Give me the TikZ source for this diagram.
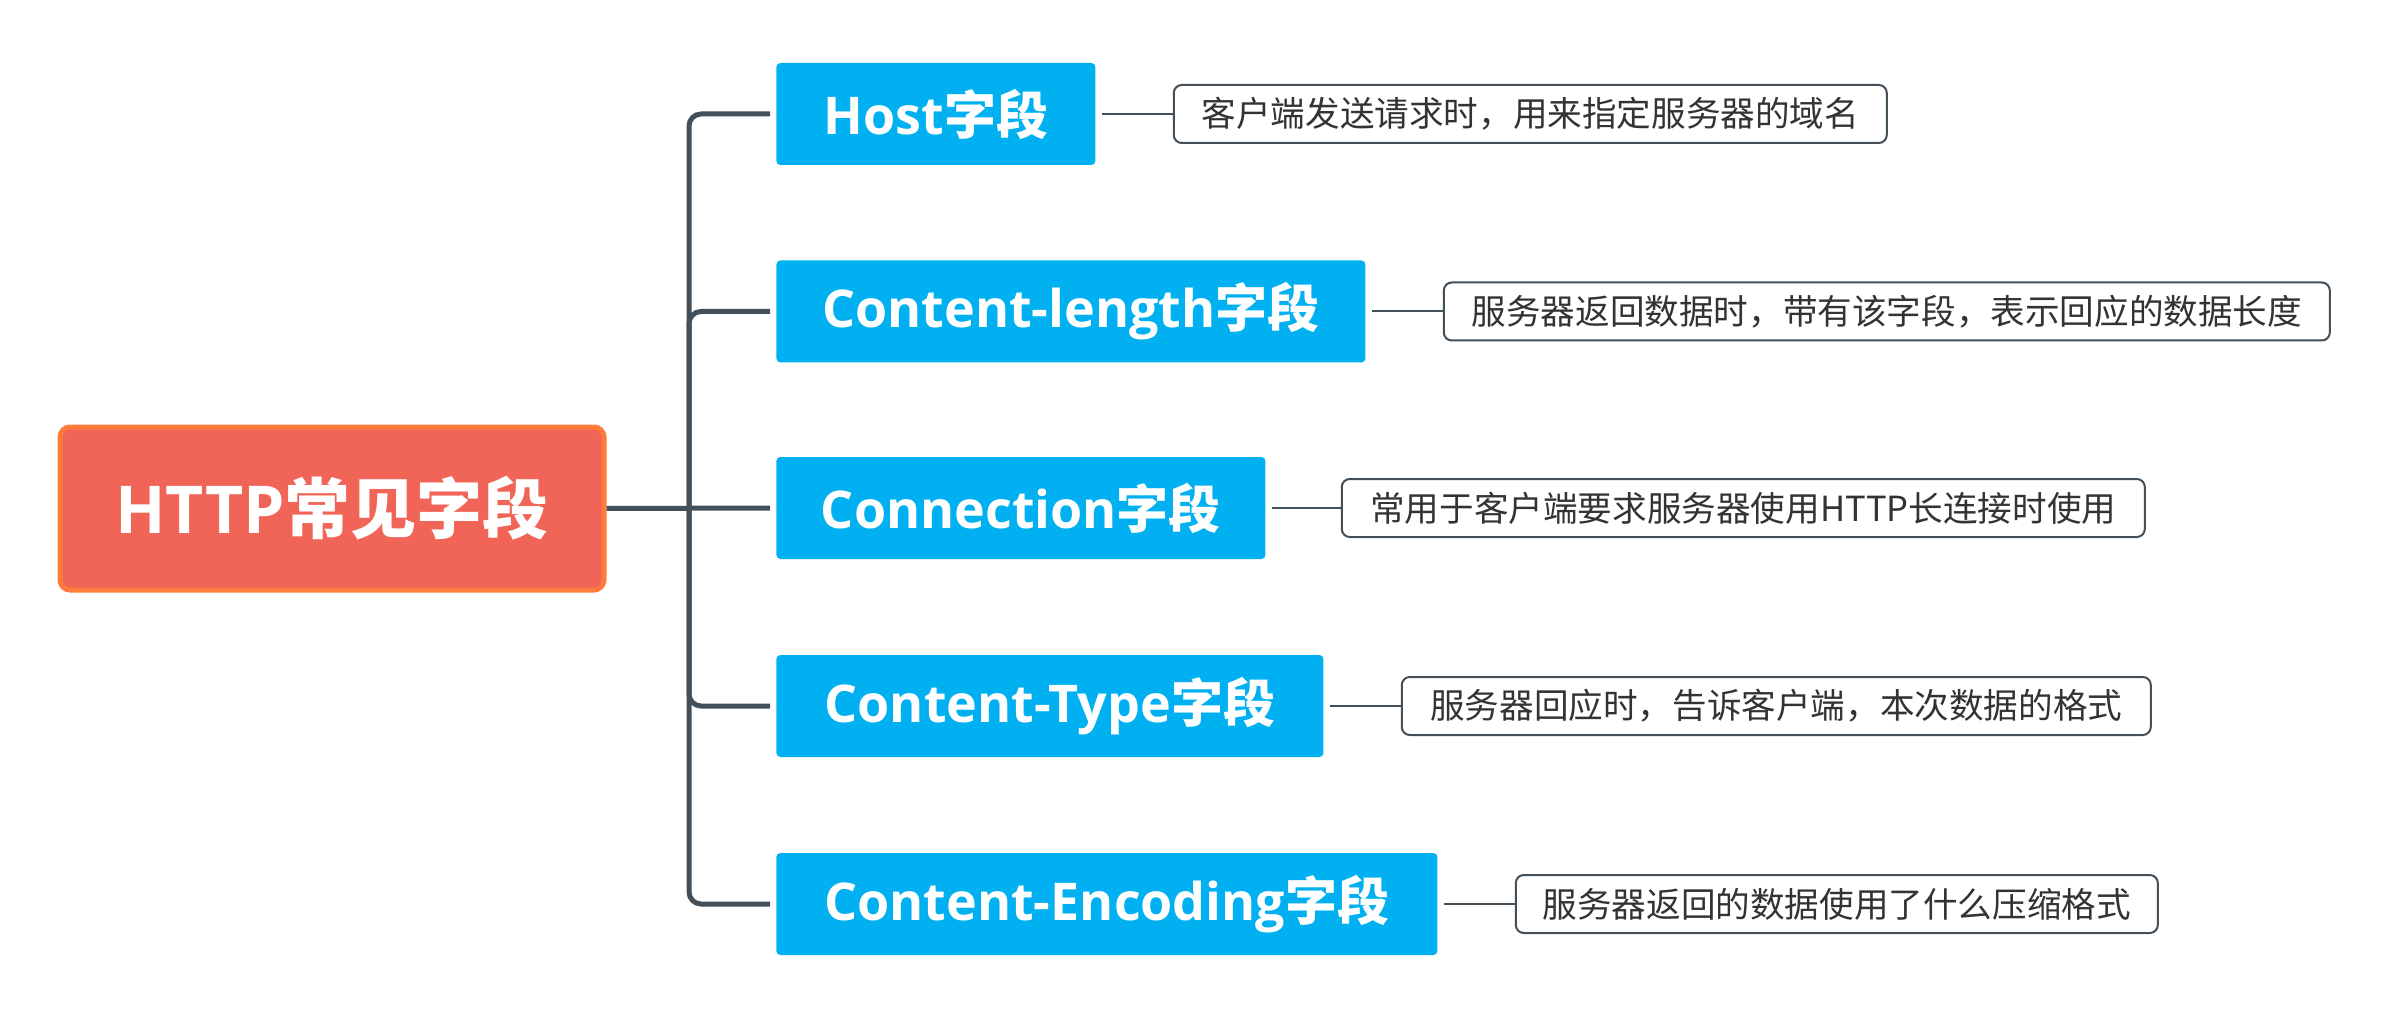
\documentclass[tikz,border=0pt]{standalone}
\usepackage{fontspec}
\newfontfamily\cjk{Noto Sans CJK SC}
\newfontfamily\lat{Open Sans}
\definecolor{rootfill}{HTML}{F16558}
\definecolor{rootline}{HTML}{FF7B3B}
\definecolor{fieldblue}{HTML}{00B0F0}
\definecolor{linegray}{HTML}{434F59}
\definecolor{txtgray}{HTML}{333333}
\newcommand\fieldlabel[1]{{\lat\bfseries #1}{\cjk\bfseries 字段}}
\tikzset{
  rootbox/.style={draw=rootline, line width=2.5pt, fill=rootfill, rounded corners=5pt,
    minimum width=272pt, minimum height=81.5pt, inner sep=0pt, text=white,
    font=\fontsize{33}{38}\selectfont},
  fieldbox/.style={fill=fieldblue, rounded corners=2pt, minimum height=51pt,
    inner sep=0pt, text=white, anchor=west, font=\fontsize{26}{30}\selectfont},
  descbox/.style={draw=linegray, line width=1pt, fill=white, rounded corners=4pt,
    minimum height=29pt, inner sep=0pt, text=txtgray, anchor=west,
    font=\cjk\fontsize{17.3}{20}\selectfont},
  trunk/.style={draw=linegray, line width=2.5pt, rounded corners=6pt},
  thin/.style={draw=linegray, line width=1pt},
}
\begin{document}
\begin{tikzpicture}[x=0.5pt, y=-0.5pt]
\useasboundingbox (0,0) rectangle (2384,1016);
\node[rootbox] (root) at (332,508.5) {{\lat\bfseries HTTP}{\cjk\bfseries 常见字段}};

\node[fieldbox, minimum width=159.5pt] (b1) at (776,114) {\fieldlabel{Host}};
\node[fieldbox, minimum width=294.5pt] (b2) at (776,311.5) {\fieldlabel{Content-length}};
\node[fieldbox, minimum width=244.5pt] (b3) at (776,508) {\fieldlabel{Connection}};
\node[fieldbox, minimum width=273.5pt] (b4) at (776,706) {\fieldlabel{Content-Type}};
\node[fieldbox, minimum width=330.5pt] (b5) at (776,904) {\fieldlabel{Content-Encoding}};

\node[descbox, minimum width=356.5pt] (d1) at ([xshift=38.5pt]b1.east) {客户端发送请求时，用来指定服务器的域名};
\node[descbox, minimum width=443pt] (d2) at ([xshift=38.5pt]b2.east) {服务器返回数据时，带有该字段，表示回应的数据长度};
\node[descbox, minimum width=401.5pt] (d3) at ([xshift=37.5pt]b3.east) {常用于客户端要求服务器使用HTTP长连接时使用};
\node[descbox, minimum width=374.5pt] (d4) at ([xshift=38.5pt]b4.east) {服务器回应时，告诉客户端，本次数据的格式};
\node[descbox, minimum width=321pt] (d5) at ([xshift=38.5pt]b5.east) {服务器返回的数据使用了什么压缩格式};

\coordinate (j) at (689,508);
\draw[trunk] (root.east) -- ([xshift=-3pt]b3.west);
\draw[trunk] (j) |- ([xshift=-3pt]b1.west);
\draw[trunk] (j) |- ([xshift=-3pt]b2.west);
\draw[trunk] (j) |- ([xshift=-3pt]b4.west);
\draw[trunk] (j) |- ([xshift=-3pt]b5.west);

\draw[thin] ([xshift=3pt]b1.east) -- (d1.west);
\draw[thin] ([xshift=3pt]b2.east) -- (d2.west);
\draw[thin] ([xshift=3pt]b3.east) -- (d3.west);
\draw[thin] ([xshift=3pt]b4.east) -- (d4.west);
\draw[thin] ([xshift=3pt]b5.east) -- (d5.west);
\end{tikzpicture}
\end{document}
